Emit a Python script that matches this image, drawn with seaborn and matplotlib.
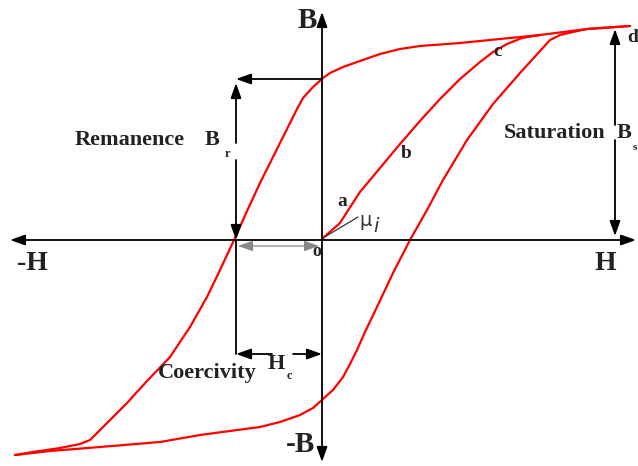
import matplotlib
matplotlib.use("Agg")
import matplotlib.pyplot as plt
import pandas as pd
import seaborn as sns

# Hysteresis loop (H, B in drawing units, origin where the axes cross)
upper_H = [308, 265, 218, 138, 98, 78, 58, 38, 21, 8, 1, -9, -19, -25, -32, -42, -49, -62, -75,
           -87, -102, -115, -132, -152, -175, -195, -215, -232, -242, -262, -289, -307]
upper_B = [214, 211, 205, 197, 194, 191, 186, 179, 173, 167, 162, 153, 142, 131, 117, 97, 83, 57, 29,
           2, -30, -57, -87, -117, -141, -163, -183, -200, -204, -208, -212, -215]

lower_H = [-307, -272, -222, -162, -122, -62, -42, -22, -9, 1, 11, 21, 28, 35, 43, 55, 71, 88,
           105, 121, 145, 171, 198, 228, 238, 251, 265, 308]
lower_B = [-215, -211, -207, -202, -195, -187, -182, -175, -168, -159, -150, -137, -124, -110, -92, -67, -33, 0,
           30, 60, 100, 136, 167, 200, 205, 208, 211, 214]

initial_H = [0, 1, 18, 25, 38, 58, 78, 98, 118, 138, 158, 171, 185, 200, 218]
initial_B = [0, 2, 17, 28, 48, 72, 96, 119, 141, 161, 178, 188, 196, 202, 205]

# key quantities
Br = 161      # remanence
Hc = -86      # coercivity
Bs = 212      # saturation

df = pd.concat([
    pd.DataFrame({"H": upper_H, "B": upper_B, "branch": "upper"}),
    pd.DataFrame({"H": lower_H, "B": lower_B, "branch": "lower"}),
    pd.DataFrame({"H": initial_H, "B": initial_B, "branch": "initial"}),
])

sns.set_style("white")
fig = plt.figure(figsize=(6.38, 4.66), dpi=100)
ax = fig.add_axes([0, 0, 1, 1])

sns.lineplot(data=df, x="H", y="B", units="branch", estimator=None, sort=False,
             color="#ff0000", lw=1.6, solid_joinstyle="round", solid_capstyle="round", ax=ax)

ax.set_xlim(-322, 316)
ax.set_ylim(-226, 240)
ax.axis("off")


def arrow(x0, y0, x1, y1, style="-|>", color="black", lw=1.3):
    ax.annotate("", xy=(x1, y1), xytext=(x0, y0),
                arrowprops=dict(arrowstyle=style + ",head_length=0.9,head_width=0.32",
                                color=color, lw=lw, shrinkA=0, shrinkB=0,
                                mutation_scale=10))


# main axes
arrow(-312, 0, 314, 0, style="<|-|>")
arrow(0, -222, 0, 228, style="<|-|>")

# remanence marker
arrow(0, Br, Hc, Br)
arrow(Hc, 97, Hc, Br - 4)
arrow(Hc, 80, Hc, 0)

# coercivity marker
arrow(-3, -6, Hc + 2, -6, style="<|-|>", color="#888888", lw=0.9)
ax.plot([Hc, Hc], [0, -114], color="black", lw=1.3)
arrow(-50, -114, Hc, -114)
arrow(-29, -114, 0, -114)

# saturation marker
arrow(293, 115, 293, Bs - 1)
arrow(293, 100, 293, 4)

serif = "Liberation Serif"
bold = dict(family=serif, weight="bold", color="#222222")

ax.text(-5, 220, "B", fontsize=21, ha="right", va="center", **bold)
ax.text(-7, -205, "-B", fontsize=21, ha="right", va="center", **bold)
ax.text(-290, -24, "-H", fontsize=20, ha="center", va="center", **bold)
ax.text(283, -24, "H", fontsize=20, ha="center", va="center", **bold)
ax.text(-5, -12, "o", fontsize=13, ha="center", va="center", **bold)

ax.text(-192, 100, "Remanence", fontsize=16, ha="center", va="center", **bold)
ax.text(-117, 100, "B", fontsize=16, ha="left", va="center", **bold)
ax.text(-97, 86, "r", fontsize=9, ha="left", va="center", **bold)

ax.text(-115, -133, "Coercivity", fontsize=16, ha="center", va="center", **bold)
ax.text(-54, -124, "H", fontsize=16, ha="left", va="center", **bold)
ax.text(-35, -136, "c", fontsize=9, ha="left", va="center", **bold)

ax.text(233, 107, "Saturation", fontsize=16, ha="center", va="center", **bold)
ax.text(295, 107, "B", fontsize=16, ha="left", va="center", **bold)
ax.text(311, 93, "s", fontsize=8, ha="left", va="center", **bold)

ax.text(20, 38, "a", fontsize=14, ha="center", va="center", **bold)
ax.text(84, 86, "b", fontsize=14, ha="center", va="center", **bold)
ax.text(176, 188, "c", fontsize=14, ha="center", va="center", **bold)
ax.text(305, 203, "d", fontsize=14, ha="left", va="center", **bold)

# initial permeability label
ax.plot([1, 36], [2, 23], color="#333333", lw=0.9)
ax.text(37, 20, "μ", fontsize=14, ha="left", va="center", color="#333333", family="DejaVu Sans")
ax.text(51, 14, "i", fontsize=14, ha="left", va="center", color="#333333",
        family="DejaVu Sans", style="italic")

fig.savefig("out.png", dpi=100)
